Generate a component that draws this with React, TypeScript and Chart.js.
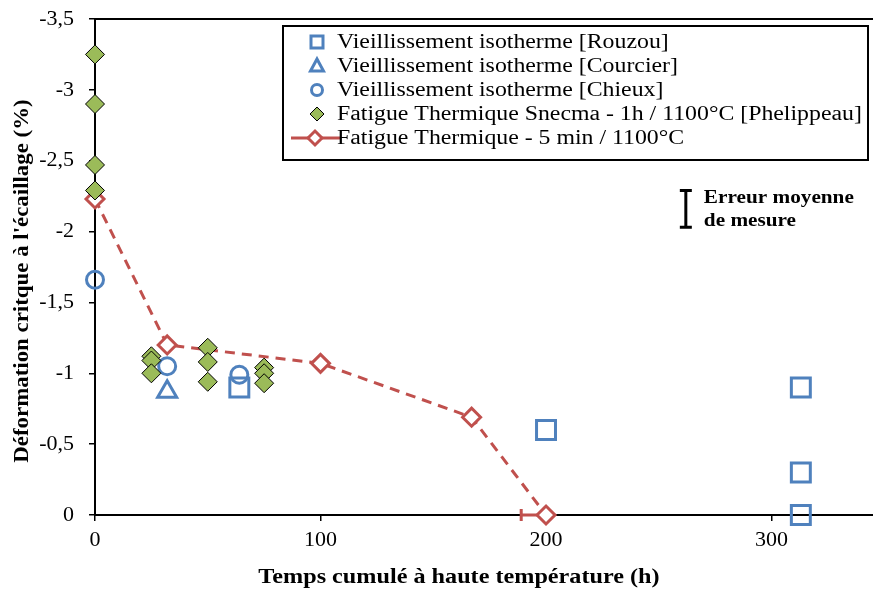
import React, { useEffect, useRef } from "react";
import { Chart, registerables } from "chart.js";

Chart.register(...registerables);

// ---------- data ----------
const rouzouX = [64, 200, 313, 313, 313];
const rouzouY = [-0.9, -0.6, -0.9, -0.3, 0];

const courcierX = [32];
const courcierY = [-0.87];

const chieuxX = [0, 32, 64];
const chieuxY = [-1.66, -1.05, -0.99];

const phelippeauX = [0, 0, 0, 0, 25, 25, 25, 50, 50, 50, 75, 75, 75];
const phelippeauY = [-3.25, -2.9, -2.47, -2.29, -1.12, -1.09, -1.0, -1.18, -1.08, -0.94, -1.04, -1.0, -0.93];

const fatigueX = [0, 32, 100, 167, 200];
const fatigueY = [-2.23, -1.2, -1.07, -0.69, 0];

// horizontal (minus) error bar on the last "Fatigue Thermique" point
const errX = [200];
const errY = [0];
const errMinus = [11];

// "Erreur moyenne de mesure" annotation
const noteX = 262;
const noteY = -2.16;
const noteErr = 0.13;
const noteLines = ["Erreur moyenne", "de mesure"];

const xTicks = [0, 100, 200, 300];
const xTitle = "Temps cumulé à haute température (h)";
const yTitle = "Déformation critque à l'écaillage (%)";
const legendLabels = [
  "Vieillissement isotherme [Rouzou]",
  "Vieillissement isotherme [Courcier]",
  "Vieillissement isotherme [Chieux]",
  "Fatigue Thermique Snecma - 1h / 1100°C [Phelippeau]",
  "Fatigue Thermique - 5 min / 1100°C",
];

const BLUE = "#4F81BD";
const GREEN = "#9BBB59";
const RED = "#C0504D";
const FONT = "'Liberation Serif', serif";

const pts = (xs: number[], ys: number[]) => xs.map((x, i) => ({ x, y: ys[i] }));

// draws text horizontally stretched by factor sx, anchored at (x, y), vertically centred
function stretchText(ctx: any, text: string, x: number, y: number, sx: number, align: string) {
  ctx.save();
  ctx.translate(x, y);
  ctx.scale(sx, 1);
  ctx.textAlign = align;
  ctx.textBaseline = "middle";
  ctx.fillText(text, 0, 0);
  ctx.restore();
}

const overlayPlugin = {
  id: "overlay",
  beforeDatasetsDraw(chart: any) {
    const { ctx, scales } = chart;
    const { x, y } = scales;
    ctx.save();
    ctx.strokeStyle = RED;
    ctx.lineWidth = 3;
    errX.forEach((v, i) => {
      const px0 = x.getPixelForValue(v - errMinus[i]);
      const px1 = x.getPixelForValue(v);
      const py = y.getPixelForValue(errY[i]);
      ctx.beginPath();
      ctx.moveTo(px0, py);
      ctx.lineTo(px1, py);
      ctx.moveTo(px0, py - 6);
      ctx.lineTo(px0, py + 6);
      ctx.stroke();
    });
    ctx.restore();
  },
  afterDatasetsDraw(chart: any) {
    const { ctx, chartArea, scales } = chart;
    const { x, y } = scales;
    ctx.save();
    // top frame line
    ctx.strokeStyle = "#000";
    ctx.lineWidth = 2;
    ctx.beginPath();
    ctx.moveTo(chartArea.left, chartArea.top);
    ctx.lineTo(chartArea.right, chartArea.top);
    ctx.stroke();

    // annotation error bar
    const ax = x.getPixelForValue(noteX);
    const ay0 = y.getPixelForValue(noteY - noteErr);
    const ay1 = y.getPixelForValue(noteY + noteErr);
    ctx.lineWidth = 3;
    ctx.beginPath();
    ctx.moveTo(ax, ay0);
    ctx.lineTo(ax, ay1);
    ctx.moveTo(ax - 6, ay0);
    ctx.lineTo(ax + 6, ay0);
    ctx.moveTo(ax - 6, ay1);
    ctx.lineTo(ax + 6, ay1);
    ctx.stroke();
    ctx.fillStyle = "#000";
    ctx.font = `bold 18px ${FONT}`;
    const mid = (ay0 + ay1) / 2;
    stretchText(ctx, noteLines[0], ax + 18, mid - 11, 1.18, "left");
    stretchText(ctx, noteLines[1], ax + 18, mid + 12, 1.18, "left");

    // axis titles
    ctx.font = `bold 22px ${FONT}`;
    stretchText(ctx, xTitle, 459, 577, 1.1, "center");
    ctx.save();
    ctx.translate(22, 281);
    ctx.rotate(-Math.PI / 2);
    stretchText(ctx, yTitle, 0, 0, 1.04, "center");
    ctx.restore();
    ctx.restore();
  },
  afterDraw(chart: any) {
    const { ctx } = chart;
    ctx.save();
    const bx = 283, by = 26, bw = 585, bh = 134;
    ctx.fillStyle = "#fff";
    ctx.fillRect(bx, by, bw, bh);
    ctx.strokeStyle = "#000";
    ctx.lineWidth = 2;
    ctx.strokeRect(bx, by, bw, bh);
    const mx = 317;
    const rows = [42, 66, 90, 114, 138];
    // square
    ctx.strokeStyle = BLUE;
    ctx.lineWidth = 3;
    ctx.strokeRect(mx - 6, rows[0] - 6, 12, 12);
    // triangle
    ctx.beginPath();
    ctx.moveTo(mx, rows[1] - 7);
    ctx.lineTo(mx + 6.5, rows[1] + 5);
    ctx.lineTo(mx - 6.5, rows[1] + 5);
    ctx.closePath();
    ctx.stroke();
    // circle
    ctx.beginPath();
    ctx.arc(mx, rows[2], 5.5, 0, Math.PI * 2);
    ctx.stroke();
    // green diamond
    ctx.beginPath();
    ctx.moveTo(mx, rows[3] - 7);
    ctx.lineTo(mx + 7, rows[3]);
    ctx.lineTo(mx, rows[3] + 7);
    ctx.lineTo(mx - 7, rows[3]);
    ctx.closePath();
    ctx.fillStyle = GREEN;
    ctx.fill();
    ctx.strokeStyle = "#000";
    ctx.lineWidth = 1;
    ctx.stroke();
    // red line + diamond
    ctx.strokeStyle = RED;
    ctx.lineWidth = 3;
    ctx.beginPath();
    ctx.moveTo(291, rows[4]);
    ctx.lineTo(340, rows[4]);
    ctx.stroke();
    ctx.beginPath();
    ctx.moveTo(mx - 2, rows[4] - 7);
    ctx.lineTo(mx + 5, rows[4]);
    ctx.lineTo(mx - 2, rows[4] + 7);
    ctx.lineTo(mx - 9, rows[4]);
    ctx.closePath();
    ctx.fillStyle = "#fff";
    ctx.fill();
    ctx.stroke();

    ctx.fillStyle = "#000";
    ctx.font = `20px ${FONT}`;
    legendLabels.forEach((t, i) => stretchText(ctx, t, 337, rows[i] + 1, 1.19, "left"));
    ctx.restore();
  },
};

export default function App() {
  const ref = useRef<HTMLCanvasElement>(null);
  useEffect(() => {
    const canvas = ref.current!;
    const chart = new Chart(canvas, {
      type: "scatter",
      data: {
        datasets: [
          {
            label: legendLabels[3],
            data: pts(phelippeauX, phelippeauY),
            pointStyle: "rectRot",
            pointRadius: 9.5,
            backgroundColor: GREEN,
            borderColor: "#000",
            borderWidth: 1,
            clip: false,
            order: 0,
          },
          {
            label: legendLabels[4],
            data: pts(fatigueX, fatigueY),
            showLine: true,
            borderDash: [10, 7],
            borderColor: RED,
            borderWidth: 3,
            pointStyle: "rectRot",
            pointRadius: 9,
            pointBorderWidth: 3,
            pointBackgroundColor: "#fff",
            pointBorderColor: RED,
            clip: false,
            order: 1,
          },
          {
            label: legendLabels[2],
            data: pts(chieuxX, chieuxY),
            pointStyle: "circle",
            pointRadius: 8.5,
            borderWidth: 3,
            borderColor: BLUE,
            backgroundColor: "rgba(255,255,255,0)",
            clip: false,
            order: 2,
          },
          {
            label: legendLabels[1],
            data: pts(courcierX, courcierY),
            pointStyle: "triangle",
            pointRadius: 11,
            borderWidth: 3,
            borderColor: BLUE,
            backgroundColor: "rgba(255,255,255,0)",
            clip: false,
            order: 3,
          },
          {
            label: legendLabels[0],
            data: pts(rouzouX, rouzouY),
            pointStyle: "rect",
            pointRadius: 13.4,
            borderWidth: 3,
            borderColor: BLUE,
            backgroundColor: "rgba(255,255,255,0)",
            clip: false,
            order: 4,
          },
        ],
      },
      options: {
        responsive: false,
        animation: false,
        layout: { autoPadding: false, padding: { top: 19, right: 0, left: 0, bottom: 0 } },
        plugins: {
          legend: { display: false },
          tooltip: { enabled: false },
        },
        scales: {
          x: {
            type: "linear",
            min: 0,
            max: 345,
            afterFit: (s: any) => {
              s.height = 76;
              s.paddingLeft = 0;
              s.paddingRight = 0;
            },
            afterBuildTicks: (s: any) => {
              s.ticks = xTicks.map((v) => ({ value: v }));
            },
            ticks: {
              color: "#000",
              font: { family: FONT, size: 22 },
              padding: 6,
              maxRotation: 0,
            },
            grid: {
              display: true,
              drawOnChartArea: false,
              drawTicks: true,
              tickLength: 6,
              color: "#000",
              lineWidth: 1.5,
            },
            border: { display: true, color: "#000", width: 2 },
            title: { display: false },
          },
          y: {
            type: "linear",
            min: -3.5,
            max: 0,
            reverse: true,
            afterFit: (s: any) => {
              s.width = 95;
              s.paddingTop = 0;
              s.paddingBottom = 0;
            },
            ticks: {
              stepSize: 0.5,
              color: "#000",
              font: { family: FONT, size: 22 },
              padding: 15,
              callback: (v: any) => String(Math.round(v * 10) / 10).replace(".", ","),
            },
            grid: {
              display: true,
              drawOnChartArea: false,
              drawTicks: true,
              tickLength: 6,
              color: "#000",
              lineWidth: 1.5,
            },
            border: { display: true, color: "#000", width: 2 },
            title: { display: false },
          },
        },
      },
      plugins: [overlayPlugin],
    } as any);
    return () => chart.destroy();
  }, []);
  return (
    <div style={{ position: "fixed", left: 0, top: 0, width: 873, height: 591, background: "#fff" }}>
      <canvas ref={ref} width={873} height={591} style={{ width: 873, height: 591, display: "block" }} />
    </div>
  );
}
